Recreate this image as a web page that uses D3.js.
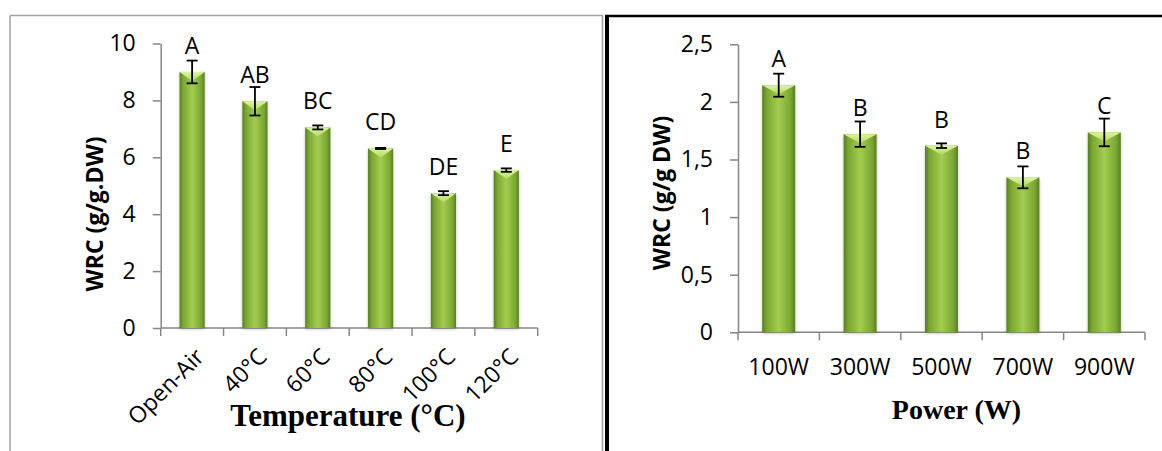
<!DOCTYPE html>
<html>
<head>
<meta charset="utf-8">
<script src="https://cdn.jsdelivr.net/npm/d3@7"></script>
<style>
  html, body { margin: 0; padding: 0; background: #ffffff; }
  svg { display: block; }
</style>
</head>
<body>
<svg id="chart" width="1162" height="451"></svg>
<script>
// ---- Data: left panel (drying temperature) ----
const tempCategories = ["Open-Air", "40°C", "60°C", "80°C", "100°C", "120°C"];
const tempValues = [9.0, 7.97, 7.05, 6.31, 4.74, 5.55];
const tempErrors = [0.4, 0.5, 0.07, 0.02, 0.07, 0.06];
const tempLetters = ["A", "AB", "BC", "CD", "DE", "E"];
const tempTicks = [0, 2, 4, 6, 8, 10];
const tempTickLabels = ["0", "2", "4", "6", "8", "10"];

// ---- Data: right panel (microwave power) ----
const powerCategories = ["100W", "300W", "500W", "700W", "900W"];
const powerValues = [2.145, 1.72, 1.62, 1.345, 1.735];
const powerErrors = [0.1, 0.11, 0.02, 0.095, 0.12];
const powerLetters = ["A", "B", "B", "B", "C"];
const powerTicks = [0, 0.5, 1, 1.5, 2, 2.5];
const powerTickLabels = ["0", "0,5", "1", "1,5", "2", "2,5"];

const svg = d3.select("#chart");
const tickFont = "'Open Sans', 'DejaVu Sans', sans-serif";
const serifFont = "'Liberation Serif', 'Times New Roman', serif";

// ---- defs: bar gradient, bevel, shadow ----
const defs = svg.append("defs");
const grad = defs.append("linearGradient").attr("id", "barGrad")
  .attr("x1", "0%").attr("x2", "100%").attr("y1", "0%").attr("y2", "0%");
[["0%", "#587f1f"], ["14%", "#7aa731"], ["50%", "#a2cd50"], ["86%", "#7aa731"], ["100%", "#587f1f"]]
  .forEach(([o, c]) => grad.append("stop").attr("offset", o).attr("stop-color", c));
const bev = defs.append("linearGradient").attr("id", "bevGrad")
  .attr("x1", "0%").attr("x2", "0%").attr("y1", "0%").attr("y2", "100%");
[["0%", "#e4f7a6"], ["100%", "#b4db62"]]
  .forEach(([o, c]) => bev.append("stop").attr("offset", o).attr("stop-color", c));
const shadow = defs.append("filter").attr("id", "barShadow")
  .attr("x", "-30%").attr("y", "-10%").attr("width", "160%").attr("height", "120%");
shadow.append("feDropShadow").attr("dx", 0).attr("dy", 1).attr("stdDeviation", 1.6)
  .attr("flood-color", "#000").attr("flood-opacity", 0.28);

// ---- panel frames ----
svg.append("line").attr("x1", 10).attr("x2", 603).attr("y1", 15.5).attr("y2", 15.5)
  .attr("stroke", "#a0a0a0").attr("stroke-width", 1.5);
svg.append("line").attr("x1", 10).attr("x2", 10).attr("y1", 15.5).attr("y2", 451)
  .attr("stroke", "#a0a0a0").attr("stroke-width", 1.5);
svg.append("line").attr("x1", 602.5).attr("x2", 602.5).attr("y1", 15.5).attr("y2", 451)
  .attr("stroke", "#a0a0a0").attr("stroke-width", 1.5);
svg.append("line").attr("x1", 605).attr("x2", 1162).attr("y1", 16).attr("y2", 16)
  .attr("stroke", "#000").attr("stroke-width", 2.5);
svg.append("line").attr("x1", 607).attr("x2", 607).attr("y1", 15).attr("y2", 451)
  .attr("stroke", "#000").attr("stroke-width", 4);

function drawPanel(cfg) {
  const g = svg.append("g");
  const x = d3.scaleBand().domain(cfg.categories)
    .range([cfg.x0, cfg.x1]).paddingInner(cfg.padInner).paddingOuter(cfg.padInner / 2);
  const y = d3.scaleLinear().domain([0, cfg.yMax]).range([cfg.yBottom, cfg.yTop]);

  // y axis
  const yAxis = d3.axisLeft(y).tickValues(cfg.ticks)
    .tickFormat((d, i) => cfg.tickLabels[i]).tickSize(8).tickSizeOuter(0).tickPadding(17);
  const ya = g.append("g").attr("transform", `translate(${cfg.x0},0)`).call(yAxis);
  ya.select(".domain").attr("stroke", "#868686").attr("stroke-width", 1.5);
  ya.selectAll(".tick line").attr("stroke", "#868686").attr("stroke-width", 1.5);
  ya.selectAll(".tick text").attr("font-family", tickFont).attr("font-size", 23)
    .attr("fill", "#000");

  // x axis baseline and boundary ticks
  g.append("line").attr("x1", cfg.x0).attr("x2", cfg.x1)
    .attr("y1", y(0)).attr("y2", y(0)).attr("stroke", "#868686").attr("stroke-width", 1.5);
  const bounds = d3.range(cfg.categories.length + 1).map(i => cfg.x0 + i * x.step());
  g.selectAll(".xtick").data(bounds).join("line").attr("class", "xtick")
    .attr("x1", d => d).attr("x2", d => d).attr("y1", y(0)).attr("y2", y(0) + 8)
    .attr("stroke", "#868686").attr("stroke-width", 1.5);

  const data = cfg.categories.map((c, i) => ({
    c, v: cfg.values[i], e: cfg.errors[i], l: cfg.letters[i]
  }));

  // bars
  const bars = g.selectAll(".bar").data(data).join("g").attr("class", "bar");
  bars.append("rect")
    .attr("x", d => x(d.c)).attr("width", x.bandwidth())
    .attr("y", d => y(d.v)).attr("height", d => y(0) - y(d.v))
    .attr("fill", "url(#barGrad)").attr("filter", "url(#barShadow)");
  bars.append("path")
    .attr("d", d => {
      const l = x(d.c), r = l + x.bandwidth(), t = y(d.v), m = l + x.bandwidth() / 2;
      return `M${l},${t}L${r},${t}L${m},${t + 9}Z`;
    })
    .attr("fill", "url(#bevGrad)").attr("opacity", 0.95);

  // error bars
  const cap = 5.5;
  const eb = g.selectAll(".err").data(data).join("g").attr("class", "err")
    .attr("stroke", "#000").attr("stroke-width", 1.8);
  eb.append("line")
    .attr("x1", d => x(d.c) + x.bandwidth() / 2).attr("x2", d => x(d.c) + x.bandwidth() / 2)
    .attr("y1", d => y(d.v + d.e)).attr("y2", d => y(d.v - d.e));
  eb.append("line")
    .attr("x1", d => x(d.c) + x.bandwidth() / 2 - cap).attr("x2", d => x(d.c) + x.bandwidth() / 2 + cap)
    .attr("y1", d => y(d.v + d.e)).attr("y2", d => y(d.v + d.e));
  eb.append("line")
    .attr("x1", d => x(d.c) + x.bandwidth() / 2 - cap).attr("x2", d => x(d.c) + x.bandwidth() / 2 + cap)
    .attr("y1", d => y(d.v - d.e)).attr("y2", d => y(d.v - d.e));

  // significance letters
  g.selectAll(".letter").data(data).join("text").attr("class", "letter")
    .attr("x", d => x(d.c) + x.bandwidth() / 2)
    .attr("y", d => y(d.v) - cfg.letterGap)
    .attr("text-anchor", "middle").attr("dominant-baseline", "central")
    .attr("font-family", tickFont).attr("font-size", 23).attr("fill", "#000")
    .text(d => d.l);

  // category labels
  const cl = g.selectAll(".cat").data(data).join("text").attr("class", "cat")
    .attr("font-family", tickFont).attr("font-size", 23).attr("fill", "#000")
    .text(d => d.c);
  if (cfg.rotate) {
    cl.attr("text-anchor", "end").attr("dominant-baseline", "central")
      .attr("transform", d => `translate(${x(d.c) + x.bandwidth() / 2 + 7},${y(0) + 24}) rotate(-45)`);
  } else {
    cl.attr("text-anchor", "middle")
      .attr("x", d => x(d.c) + x.bandwidth() / 2).attr("y", y(0) + 43);
  }

  // axis titles
  g.append("text")
    .attr("transform", `translate(${cfg.yTitleX},${cfg.yTitleY}) rotate(-90)`)
    .attr("text-anchor", "middle").attr("dominant-baseline", "central")
    .attr("font-family", tickFont).attr("font-weight", "bold").attr("font-size", cfg.yTitleSize)
    .attr("fill", "#000").text(cfg.yTitle);
  g.append("text")
    .attr("x", cfg.xTitleX).attr("y", cfg.xTitleY).attr("text-anchor", "middle")
    .attr("font-family", serifFont).attr("font-weight", "bold").attr("font-size", cfg.xTitleSize)
    .attr("fill", "#000").text(cfg.xTitle);
}

drawPanel({
  categories: tempCategories, values: tempValues, errors: tempErrors, letters: tempLetters,
  ticks: tempTicks, tickLabels: tempTickLabels, yMax: 10,
  x0: 160.7, x1: 537.7, padInner: 0.6, yBottom: 328, yTop: 43.5,
  letterGap: 27, rotate: true,
  yTitle: "WRC (g/g.DW)", yTitleX: 94, yTitleY: 214, yTitleSize: 23,
  xTitle: "Temperature (°C)", xTitleX: 348, xTitleY: 426, xTitleSize: 31
});

drawPanel({
  categories: powerCategories, values: powerValues, errors: powerErrors, letters: powerLetters,
  ticks: powerTicks, tickLabels: powerTickLabels, yMax: 2.5,
  x0: 738, x1: 1145, padInner: 0.595, yBottom: 332.3, yTop: 44.3,
  letterGap: 27, rotate: false,
  yTitle: "WRC (g/g DW)", yTitleX: 661, yTitleY: 193, yTitleSize: 23,
  xTitle: "Power (W)", xTitleX: 956.5, xTitleY: 419, xTitleSize: 28
});
</script>
</body>
</html>
